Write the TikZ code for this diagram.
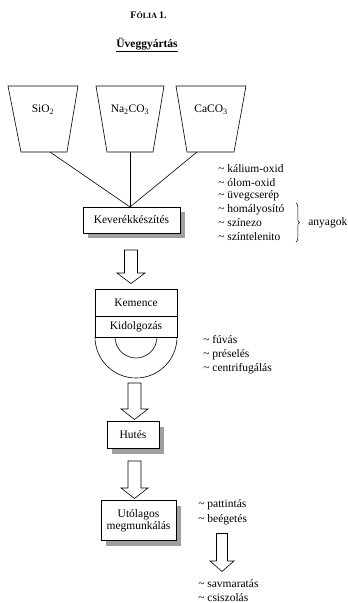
\documentclass[tikz,border=0pt]{standalone}
\usepackage{fontspec}
\setmainfont{Liberation Serif}
\usetikzlibrary{shadows,decorations.pathreplacing}
\begin{document}
\begin{tikzpicture}[x=1pt,y=-1pt,line width=0.6pt,
  txt/.style={font=\fontsize{11.5}{13}\selectfont, inner sep=0},
  lbl/.style={font=\fontsize{11.5}{13}\selectfont, anchor=west, inner sep=0},
  box/.style={draw, fill=white, inner sep=0, font=\fontsize{11.5}{13}\selectfont,
    drop shadow={shadow xshift=5pt, shadow yshift=-5pt, opacity=1, fill=gray!75}},
  hollow/.style={draw, fill=white, line width=0.6pt, line join=miter}]
\useasboundingbox (0,0) rectangle (348,603);

% titles
\node[inner sep=0] (title) at (148.5,15) {\bfseries\fontsize{10}{12}\selectfont F\fontsize{8}{9}\selectfont ÓLIA \fontsize{10}{12}\selectfont 1.};
\node[inner sep=0] (head) at (147,45) {\bfseries\fontsize{11.5}{13}\selectfont\underline{Üveggyártás}};

% trapezoids (hoppers)
\draw (8,86) -- (78,86) -- (67,152) -- (21,152) -- cycle;
\draw (96,86) -- (164,86) -- (153,152) -- (107,152) -- cycle;
\draw (176,86) -- (246,86) -- (234,152) -- (187,152) -- cycle;
\node[txt] (sio) at (43,110) {SiO\textsubscript{2}};
\node[txt] (na) at (130,110) {Na\textsubscript{2}CO\textsubscript{3}};
\node[txt] (ca) at (211,110) {CaCO\textsubscript{3}};
\coordinate (t1) at (50,152);
\coordinate (t2) at (130,152);
\coordinate (t3) at (197,152);

% mixing box
\node[box, minimum width=97, minimum height=26] (kev) at (131.5,220) {Keverékkészítés};
\coordinate (meet) at (130,207);
\draw (t1) -- (meet);
\draw (t2) -- (meet);
\draw (t3) -- (meet);

% additive list
\node[lbl] (a1) at (218,169) {\textasciitilde{} kálium-oxid};
\node[lbl] (a2) at (218,182.5) {\textasciitilde{} ólom-oxid};
\node[lbl] (a3) at (218,196) {\textasciitilde{} üvegcserép};
\node[lbl] (a4) at (218,209.5) {\textasciitilde{} homályosító};
\node[lbl] (a5) at (218,223) {\textasciitilde{} színezo};
\node[lbl] (a6) at (218,236.5) {\textasciitilde{} színtelenito};
\draw[line width=0.5pt, decorate, decoration={brace, amplitude=3.5pt}] (296,203) -- (296,242);
\node[lbl] (any) at (308,223) {anyagok};

% arrow 1
\draw[hollow] (124.5,250) -- (137.5,250) -- (137.5,273) -- (145,273) -- (131,283.5) -- (117,273) -- (124.5,273) -- cycle;

% furnace
\draw (95,289.5) rectangle (177,337);
\draw (95,316) -- (177,316);
\draw (95,337) arc[start angle=180, end angle=0, radius=41];
\draw (115,337) arc[start angle=180, end angle=0, radius=21];
\node[txt] (kem) at (136,302.5) {Kemence};
\node[txt] (kid) at (136,327) {Kidolgozás};

\node[lbl] (b1) at (203,340) {\textasciitilde{} fúvás};
\node[lbl] (b2) at (203,354.5) {\textasciitilde{} préselés};
\node[lbl] (b3) at (203,369) {\textasciitilde{} centrifugálás};

% arrow 2
\draw[hollow] (128,383) -- (141,383) -- (141,409) -- (148,409) -- (134.5,419.5) -- (121,409) -- (128,409) -- cycle;

\node[box, minimum width=52, minimum height=27] (hut) at (133,435) {Hutés};

% arrow 3
\draw[hollow] (128,461) -- (141,461) -- (141,488) -- (148,488) -- (134.5,498.5) -- (121,488) -- (128,488) -- cycle;

\node[box, minimum width=75, minimum height=40, align=center] (uto) at (138.5,520.5) {Utólagos\\[-1pt]megmunkálás};

\node[lbl] (c1) at (198,505) {\textasciitilde{} pattintás};
\node[lbl] (c2) at (198,520) {\textasciitilde{} beégetés};

% arrow 4
\draw[hollow] (216.5,533.5) -- (227.5,533.5) -- (227.5,561) -- (234,561) -- (222,571.5) -- (210,561) -- (216.5,561) -- cycle;

\node[lbl] (d1) at (198,583.5) {\textasciitilde{} savmaratás};
\node[lbl] (d2) at (198,598) {\textasciitilde{} csiszolás};
\end{tikzpicture}
\end{document}
